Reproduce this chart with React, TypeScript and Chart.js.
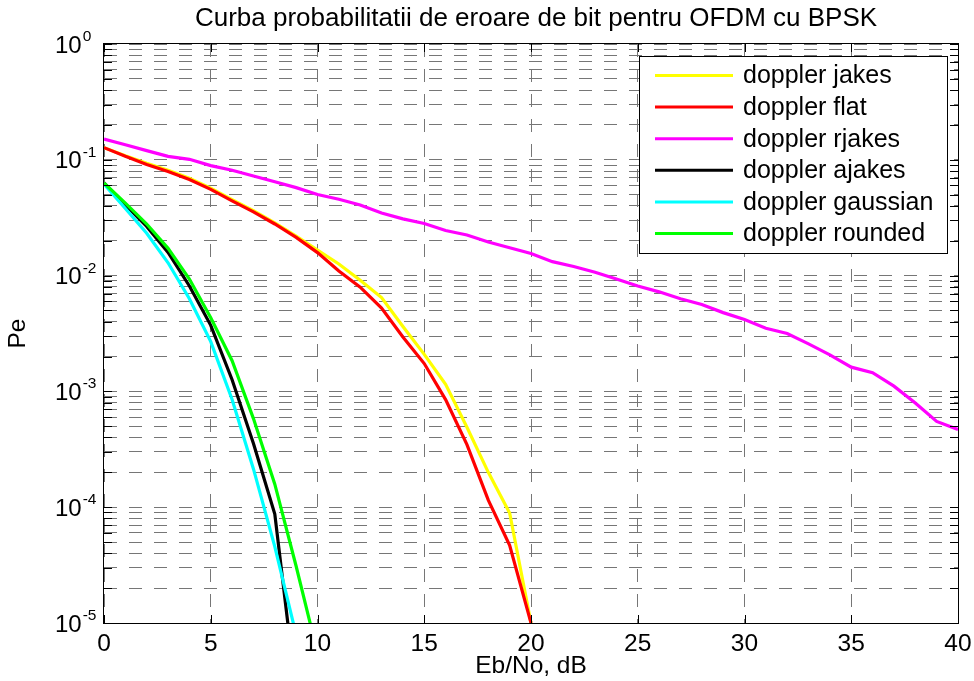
import React, { useEffect, useRef } from 'react';
import { Chart, registerables } from 'chart.js';

Chart.register(...registerables);

const FONT = '"Liberation Sans", Arial, Helvetica, sans-serif';

const TITLE = 'Curba probabilitatii de eroare de bit pentru OFDM cu BPSK';
const X_LABEL = 'Eb/No, dB';
const Y_LABEL = 'Pe';

const EBNO = [0, 1, 2, 3, 4, 5, 6, 7, 8, 9, 10, 11, 12, 13, 14, 15, 16, 17, 18, 19, 20,
  21, 22, 23, 24, 25, 26, 27, 28, 29, 30, 31, 32, 33, 34, 35, 36, 37, 38, 39, 40];
const X_TICKS = [0, 5, 10, 15, 20, 25, 30, 35, 40];
const Y_DECADES = [1, 0.1, 0.01, 0.001, 0.0001, 0.00001];
const Y_EXPONENTS = ['0', '-1', '-2', '-3', '-4', '-5'];
const Y_MINOR_STEPS = [2, 3, 4, 5, 6, 7, 8, 9];

const SERIES_LABELS = ['doppler jakes', 'doppler flat', 'doppler rjakes', 'doppler ajakes', 'doppler gaussian', 'doppler rounded'];
const SERIES_COLORS = ['#ffff00', '#ff0000', '#ff00ff', '#000000', '#00ffff', '#00ff00'];

const JAKES = [0.1274, 0.1084, 0.0933, 0.0813, 0.0692, 0.0569, 0.0452, 0.0363, 0.0285, 0.0219, 0.0166,
  0.0126, 0.00912, 0.00646, 0.00363, 0.00209, 0.00115, 0.00049, 0.0002, 0.000089, 0.00001];
const FLAT = [0.1274, 0.1072, 0.0912, 0.0794, 0.0676, 0.0556, 0.0442, 0.0355, 0.0279, 0.0214, 0.0158,
  0.01096, 0.00794, 0.00525, 0.00295, 0.00174, 0.00085, 0.000347, 0.000115, 0.0000468, 0.00001];
const RJAKES = [0.151, 0.135, 0.120, 0.107, 0.101, 0.0891, 0.0813, 0.0724, 0.0646, 0.0575, 0.0501,
  0.0457, 0.0407, 0.0347, 0.0309, 0.0282, 0.0245, 0.0224, 0.0195, 0.0174, 0.0155,
  0.0132, 0.0120, 0.0107, 0.00933, 0.00813, 0.00724, 0.00631, 0.00562, 0.00479, 0.00417,
  0.00351, 0.00316, 0.00257, 0.00207, 0.00162, 0.00145, 0.00111, 0.000794, 0.00055, 0.000468];
const AJAKES = [0.0631, 0.0407, 0.0266, 0.01585, 0.00813, 0.00372, 0.00126, 0.000355, 0.0000871, 0.0000025];
const GAUSSIAN = [0.0617, 0.0380, 0.0232, 0.0129, 0.00631, 0.00269, 0.000851, 0.000214, 0.0000457, 0.0000079];
const ROUNDED = [0.0631, 0.0422, 0.0279, 0.0172, 0.00933, 0.00432, 0.00184, 0.000582, 0.000158, 0.0000309, 0.0000055];

const SERIES_VALUES = [JAKES, FLAT, RJAKES, AJAKES, GAUSSIAN, ROUNDED];

const decorPlugin = {
  id: 'matlabDecor',
  afterDatasetsDraw(chart: any) {
    const ctx = chart.ctx;
    const { left, right, top, bottom } = chart.chartArea;
    const xs = chart.scales.x;
    const ys = chart.scales.y;
    ctx.save();
    ctx.strokeStyle = '#000';
    ctx.lineWidth = 1;
    ctx.setLineDash([]);
    const tl = 8;
    ctx.beginPath();
    X_TICKS.forEach((v) => {
      const px = Math.round(xs.getPixelForValue(v)) + 0.5;
      ctx.moveTo(px, bottom); ctx.lineTo(px, bottom - tl);
      ctx.moveTo(px, top); ctx.lineTo(px, top + tl);
    });
    Y_DECADES.forEach((d, i) => {
      const vals = [d];
      if (i > 0) Y_MINOR_STEPS.forEach((m) => vals.push(d * m));
      vals.forEach((v) => {
        const py = Math.round(ys.getPixelForValue(v)) + 0.5;
        ctx.moveTo(left, py); ctx.lineTo(left + tl, py);
        ctx.moveTo(right, py); ctx.lineTo(right - tl, py);
      });
    });
    ctx.stroke();
    ctx.strokeRect(Math.round(left) - 0.5, Math.round(top) - 0.5, Math.round(right - left) + 1, Math.round(bottom - top) + 1);
    ctx.fillStyle = '#000';
    ctx.textAlign = 'left';
    ctx.textBaseline = 'alphabetic';
    Y_DECADES.forEach((d, i) => {
      const py = ys.getPixelForValue(d);
      ctx.font = `24px ${FONT}`;
      ctx.fillText('10', 55, py + 8.5);
      const w = ctx.measureText('10').width;
      ctx.font = `15.5px ${FONT}`;
      ctx.fillText(Y_EXPONENTS[i], 55 + w + 1, py - 3);
    });
    ctx.restore();
  },
  afterDraw(chart: any) {
    const ctx = chart.ctx;
    const { left, right, top } = chart.chartArea;
    ctx.save();
    ctx.setLineDash([]);
    ctx.fillStyle = '#000';
    ctx.font = `26px ${FONT}`;
    ctx.textAlign = 'center';
    ctx.textBaseline = 'middle';
    ctx.fillText(TITLE, (left + right) / 2 + 5, 19);
    const boxW = 308;
    const boxH = 197;
    const bx = right - 11 - boxW;
    const by = top + 12;
    ctx.fillStyle = '#fff';
    ctx.fillRect(bx, by, boxW, boxH);
    ctx.strokeStyle = '#000';
    ctx.lineWidth = 1;
    ctx.strokeRect(Math.round(bx) + 0.5, Math.round(by) + 0.5, boxW, boxH);
    ctx.font = `25px ${FONT}`;
    ctx.textBaseline = 'middle';
    ctx.textAlign = 'left';
    chart.data.datasets.forEach((ds: any, i: number) => {
      const cy = by + 19.5 + i * 31.6;
      ctx.strokeStyle = ds.borderColor;
      ctx.lineWidth = 3;
      ctx.beginPath();
      ctx.moveTo(bx + 16, cy);
      ctx.lineTo(bx + 94, cy);
      ctx.stroke();
      ctx.fillStyle = '#000';
      ctx.fillText(ds.label, bx + 104, cy + 1);
    });
    ctx.restore();
  },
};

export default function App() {
  const canvasRef = useRef<HTMLCanvasElement | null>(null);

  useEffect(() => {
    const canvas = canvasRef.current;
    if (!canvas) return;
    const yTickValues: number[] = [];
    Y_DECADES.forEach((d, i) => {
      yTickValues.push(d);
      if (i > 0) Y_MINOR_STEPS.forEach((m) => yTickValues.push(d * m));
    });
    const datasets = SERIES_VALUES.map((vals, i) => ({
      label: SERIES_LABELS[i],
      data: vals.map((v, j) => ({ x: EBNO[j], y: v })),
      borderColor: SERIES_COLORS[i],
      backgroundColor: SERIES_COLORS[i],
      borderWidth: 3.2,
      pointRadius: 0,
      tension: 0,
      fill: false,
      clip: 0,
      order: SERIES_VALUES.length - i,
    }));
    const chart = new Chart(canvas, {
      type: 'line',
      data: { datasets },
      options: {
        responsive: false,
        animation: false,
        layout: { padding: { left: 0, right: 16, top: 44, bottom: 0 } },
        plugins: {
          legend: { display: false },
          tooltip: { enabled: false },
          title: { display: false },
        },
        scales: {
          x: {
            type: 'linear',
            min: 0,
            max: 40,
            afterBuildTicks: (s: any) => { s.ticks = X_TICKS.map((v) => ({ value: v })); },
            ticks: { color: '#000', font: { family: FONT, size: 24.5 }, padding: 7, autoSkip: false, maxRotation: 0 },
            grid: { color: '#767676', lineWidth: 1, drawTicks: false },
            border: { display: false, dash: [13, 12] },
            title: { display: true, text: X_LABEL, color: '#000', font: { family: FONT, size: 24.5 }, padding: { top: 0, bottom: 0 } },
            afterFit: (s: any) => { s.height = 58; s.paddingLeft = 0; s.paddingRight = 0; },
          },
          y: {
            type: 'logarithmic',
            min: 0.00001,
            max: 1,
            afterBuildTicks: (s: any) => { s.ticks = yTickValues.map((v) => ({ value: v })); },
            ticks: { display: false, autoSkip: false },
            grid: { color: '#767676', lineWidth: 1, drawTicks: false },
            border: { display: false, dash: [13, 12] },
            title: { display: true, text: Y_LABEL, color: '#000', font: { family: FONT, size: 24.5 }, padding: { top: 4, bottom: 0 } },
            afterFit: (s: any) => { s.width = 104; s.paddingTop = 0; s.paddingBottom = 0; },
          },
        },
      } as any,
      plugins: [decorPlugin],
    });
    return () => chart.destroy();
  }, []);

  return (
    <div style={{ position: 'fixed', left: 0, top: 0, width: 974, height: 681, background: '#fff' }}>
      <canvas ref={canvasRef} width={974} height={681} style={{ display: 'block' }} />
    </div>
  );
}
